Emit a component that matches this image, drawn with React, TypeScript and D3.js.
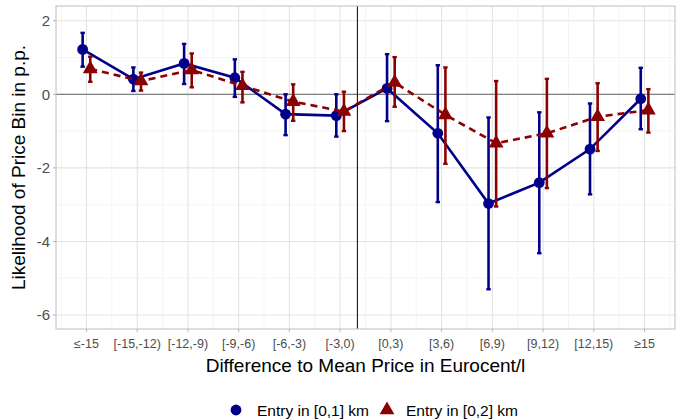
import * as d3 from "d3";

const categories = ["≤-15", "[-15,-12)", "[-12,-9)", "[-9,-6)", "[-6,-3)", "[-3,0)", "[0,3)", "[3,6)", "[6,9)", "[9,12)", "[12,15)", "≥15"];

// Entry in [0,1] km
const blueEst = [1.22, 0.41, 0.84, 0.45, -0.54, -0.58, 0.16, -1.06, -2.97, -2.40, -1.49, -0.12];
const blueLow = [0.75, 0.09, 0.28, -0.07, -1.11, -1.15, -0.73, -2.93, -5.30, -4.32, -2.72, -0.95];
const blueHigh = [1.67, 0.73, 1.37, 0.95, 0.0, 0.0, 1.09, 0.79, -0.63, -0.49, -0.25, 0.72];

// Entry in [0,2] km
const redEst = [0.69, 0.36, 0.66, 0.23, -0.2, -0.47, 0.32, -0.56, -1.33, -1.06, -0.61, -0.43];
const redLow = [0.34, 0.1, 0.19, -0.22, -0.72, -1.0, -0.34, -1.89, -3.05, -2.55, -1.54, -1.04];
const redHigh = [1.02, 0.59, 1.11, 0.61, 0.27, 0.07, 1.01, 0.73, 0.36, 0.42, 0.30, 0.14];

const yTicks = [-6, -4, -2, 0, 2];
const yMinor = [-5, -3, -1, 1];
const vlinePos = 6.34;

const W = 676;
const H = 419;
const P = { left: 56, right: 675, top: 6, bottom: 329 };
const BLUE = "#00008B";
const RED = "#8B0000";
const FONT = "'Liberation Sans', Arial, sans-serif";
const DODGE = 0.075;

export default function App() {
  const x = d3.scaleLinear().domain([0.4, categories.length + 0.6]).range([P.left, P.right]);
  const y = d3.scaleLinear().domain([-6.38, 2.4]).range([P.bottom, P.top]);

  const series = [
    { est: blueEst, lo: blueLow, hi: blueHigh, color: BLUE, dx: -DODGE, dash: undefined, shape: "circle" },
    { est: redEst, lo: redLow, hi: redHigh, color: RED, dx: DODGE, dash: "7,5", shape: "triangle" },
  ];

  const tri = d3.symbol().type(d3.symbolTriangle).size(95)()!;
  const xMinor = d3.range(0.5, categories.length + 1, 1);

  return (
    <div style={{ position: "fixed", left: 0, top: 0 }}>
      <svg width={W} height={H} style={{ display: "block", background: "#fff" }} fontFamily={FONT}>
        {/* grid */}
        {yMinor.map((v) => (
          <line key={"ym" + v} x1={P.left} x2={P.right} y1={y(v)} y2={y(v)} stroke="#eeeeee" strokeWidth={0.6} />
        ))}
        {xMinor.map((v) => (
          <line key={"xm" + v} x1={x(v)} x2={x(v)} y1={P.top} y2={P.bottom} stroke="#eeeeee" strokeWidth={0.6} />
        ))}
        {yTicks.map((v) => (
          <line key={"yg" + v} x1={P.left} x2={P.right} y1={y(v)} y2={y(v)} stroke="#e3e3e3" strokeWidth={1.1} />
        ))}
        {categories.map((c, i) => (
          <line key={"xg" + c} x1={x(i + 1)} x2={x(i + 1)} y1={P.top} y2={P.bottom} stroke="#e3e3e3" strokeWidth={1.1} />
        ))}

        {/* reference lines */}
        <line x1={P.left} x2={P.right} y1={y(0)} y2={y(0)} stroke="#808080" strokeWidth={1.3} />
        <line x1={x(vlinePos)} x2={x(vlinePos)} y1={P.top} y2={P.bottom} stroke="#000" strokeWidth={1} />

        {/* panel border */}
        <rect x={P.left} y={P.top} width={P.right - P.left} height={P.bottom - P.top} fill="none" stroke="#c4c4c4" strokeWidth={1.1} />

        {/* series */}
        {series.map((s, si) => {
          const pts = s.est.map((v, i) => [x(i + 1 + s.dx), y(v)] as [number, number]);
          const path = d3.line()(pts)!;
          return (
            <g key={si}>
              <path d={path} fill="none" stroke={s.color} strokeWidth={2.6} strokeDasharray={s.dash} />
              {s.est.map((v, i) => {
                const cx = x(i + 1 + s.dx);
                return (
                  <g key={i}>
                    <line x1={cx} x2={cx} y1={y(s.lo[i])} y2={y(s.hi[i])} stroke={s.color} strokeWidth={2.6} />
                    <line x1={cx - 2.2} x2={cx + 2.2} y1={y(s.lo[i])} y2={y(s.lo[i])} stroke={s.color} strokeWidth={2.4} />
                    <line x1={cx - 2.2} x2={cx + 2.2} y1={y(s.hi[i])} y2={y(s.hi[i])} stroke={s.color} strokeWidth={2.4} />
                    {s.shape === "circle" ? (
                      <circle cx={cx} cy={y(v)} r={5.4} fill={s.color} />
                    ) : (
                      <path d={tri} transform={`translate(${cx},${y(v)})`} fill={s.color} />
                    )}
                  </g>
                );
              })}
            </g>
          );
        })}

        {/* y axis */}
        {yTicks.map((v) => (
          <g key={"yt" + v}>
            <line x1={P.left - 3} x2={P.left} y1={y(v)} y2={y(v)} stroke="#b3b3b3" />
            <text x={P.left - 6} y={y(v)} dy="0.36em" textAnchor="end" fontSize={15} fill="#4d4d4d">
              {v}
            </text>
          </g>
        ))}
        {/* x axis */}
        {categories.map((c, i) => (
          <g key={"xt" + c}>
            <line x1={x(i + 1)} x2={x(i + 1)} y1={P.bottom} y2={P.bottom + 3} stroke="#b3b3b3" />
            <text x={x(i + 1)} y={P.bottom + 19} textAnchor="middle" fontSize={12.5} fill="#4d4d4d">
              {c}
            </text>
          </g>
        ))}

        <text x={(P.left + P.right) / 2} y={372} textAnchor="middle" fontSize={19} fill="#000">
          Difference to Mean Price in Eurocent/l
        </text>
        <text transform={`translate(25,${(P.top + P.bottom) / 2}) rotate(-90)`} textAnchor="middle" fontSize={19} fill="#000">
          Likelihood of Price Bin in p.p.
        </text>

        {/* legend */}
        <circle cx={236} cy={410} r={5.4} fill={BLUE} />
        <text x={257} y={410} dy="0.36em" fontSize={15.5} fill="#000">Entry in [0,1] km</text>
        <path d={tri} transform="translate(387,410)" fill={RED} />
        <text x={406} y={410} dy="0.36em" fontSize={15.5} fill="#000">Entry in [0,2] km</text>
      </svg>
    </div>
  );
}
